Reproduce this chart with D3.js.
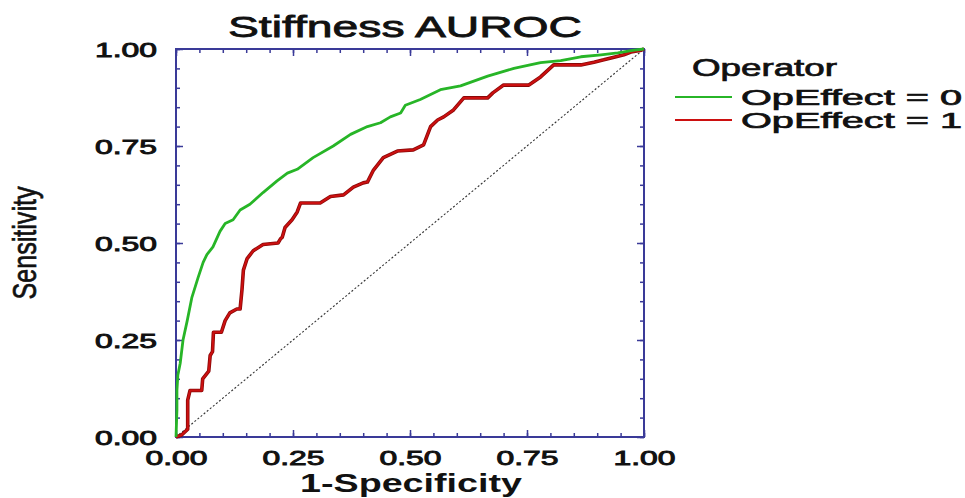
<!DOCTYPE html>
<html><head><meta charset="utf-8">
<script src="https://cdn.jsdelivr.net/npm/d3@7"></script>
<style>body{margin:0;background:#fff}svg{display:block}text{font-family:"Liberation Sans",Arial,sans-serif;fill:#111}</style>
</head><body><svg id="c" width="965" height="498"></svg>
<script>
const title = "Stiffness  AUROC";
const xTitle = "1-Specificity";
const yTitle = "Sensitivity";
const legendTitle = "Operator";
const seriesNames = ["OpEffect = 0", "OpEffect = 1"];
const seriesColors = ["#27b527", "#cc1010"];
const majorTicks = [0, 0.25, 0.5, 0.75, 1];
const tickLabels = ["0.00", "0.25", "0.50", "0.75", "1.00"];

const fprOp0 = [0,0.002,0.002,0.004,0.009,0.015,0.024,0.034,0.047,0.058,0.066,0.079,0.094,0.105,0.122,0.137,0.158,0.186,0.216,0.238,0.259,0.293,0.336,0.373,0.409,0.437,0.458,0.480,0.490,0.522,0.565,0.608,0.666,0.722,0.779,0.822,0.865,0.908,0.944,0.979,1];
const tprOp0 = [0,0.07,0.12,0.16,0.19,0.25,0.30,0.36,0.41,0.45,0.47,0.49,0.53,0.55,0.56,0.585,0.60,0.63,0.66,0.68,0.69,0.72,0.75,0.78,0.80,0.81,0.825,0.835,0.855,0.87,0.895,0.905,0.93,0.95,0.965,0.97,0.98,0.985,0.99,0.997,1];

const fprOp1 = [0,0.012,0.025,0.025,0.03,0.055,0.057,0.07,0.073,0.078,0.08,0.097,0.105,0.115,0.13,0.137,0.141,0.144,0.152,0.165,0.186,0.218,0.223,0.227,0.233,0.248,0.259,0.266,0.308,0.33,0.358,0.379,0.40,0.409,0.422,0.443,0.473,0.507,0.529,0.544,0.559,0.572,0.593,0.615,0.666,0.677,0.70,0.754,0.779,0.807,0.865,0.893,0.914,0.936,0.957,0.972,0.994,1];
const tprOp1 = [0,0.005,0.02,0.095,0.12,0.12,0.15,0.17,0.21,0.22,0.27,0.27,0.30,0.32,0.33,0.33,0.38,0.43,0.46,0.48,0.496,0.50,0.51,0.515,0.54,0.56,0.58,0.603,0.603,0.62,0.624,0.644,0.655,0.657,0.688,0.72,0.737,0.74,0.753,0.80,0.817,0.825,0.843,0.874,0.874,0.887,0.907,0.907,0.928,0.959,0.959,0.966,0.972,0.979,0.985,0.992,0.997,1];

const diagonal = [0, 1];

const svg = d3.select("#c");
const L = 176, R = 644, T = 49, B = 437;
const x = d3.scaleLinear().domain([0, 1]).range([L, R]);
const y = d3.scaleLinear().domain([0, 1]).range([B, T]);
const axisColor = "#3a3a98";
const minorTicks = d3.range(0, 1.0001, 0.05).map(v => +v.toFixed(2));

function styleAxis(g) {
  g.select(".domain").remove();
  g.selectAll(".tick line").attr("stroke", axisColor).attr("stroke-width", 1.5);
}
// minor ticks
svg.append("g").attr("transform", `translate(0,${B})`).call(d3.axisBottom(x).tickValues(minorTicks).tickSize(-4).tickFormat("")).call(styleAxis);
svg.append("g").attr("transform", `translate(0,${T})`).call(d3.axisTop(x).tickValues(minorTicks).tickSize(-4).tickFormat("")).call(styleAxis);
svg.append("g").attr("transform", `translate(${L},0)`).call(d3.axisLeft(y).tickValues(minorTicks).tickSize(-4).tickFormat("")).call(styleAxis);
svg.append("g").attr("transform", `translate(${R},0)`).call(d3.axisRight(y).tickValues(minorTicks).tickSize(-4).tickFormat("")).call(styleAxis);
// major ticks
const fmt = (d) => tickLabels[majorTicks.indexOf(d)];
const gx = svg.append("g").attr("transform", `translate(0,${B})`).call(d3.axisBottom(x).tickValues(majorTicks).tickSize(-7).tickPadding(13).tickFormat(fmt)).call(styleAxis);
const gy = svg.append("g").attr("transform", `translate(${L},0)`).call(d3.axisLeft(y).tickValues(majorTicks).tickSize(-7).tickPadding(19).tickFormat(fmt)).call(styleAxis);
svg.append("g").attr("transform", `translate(0,${T})`).call(d3.axisTop(x).tickValues(majorTicks).tickSize(-7).tickFormat("")).call(styleAxis);
svg.append("g").attr("transform", `translate(${R},0)`).call(d3.axisRight(y).tickValues(majorTicks).tickSize(-7).tickFormat("")).call(styleAxis);

[gx, gy].forEach(g => g.selectAll(".tick text")
  .attr("font-size", 20.5).attr("fill", "#111").attr("stroke", "#111").attr("stroke-width", 0.9)
  .attr("font-family", '"Liberation Sans", Arial, sans-serif')
  .attr("textLength", 62).attr("lengthAdjust", "spacingAndGlyphs"));
gy.selectAll(".tick text").attr("dy", "0.36em");
gx.selectAll(".tick text").attr("dy", "0.71em");

// frame
svg.append("rect").attr("x", L).attr("y", T).attr("width", R - L).attr("height", B - T)
  .attr("fill", "none").attr("stroke", axisColor).attr("stroke-width", 2);

// diagonal
svg.append("line").attr("x1", x(diagonal[0])).attr("y1", y(diagonal[0])).attr("x2", x(diagonal[1])).attr("y2", y(diagonal[1]))
  .attr("stroke", "#333").attr("stroke-width", 1.1).attr("stroke-dasharray", "2,2");

const line = d3.line().x(d => x(d[0])).y(d => y(d[1]));
const s0 = fprOp0.map((v, i) => [v, tprOp0[i]]);
const s1 = fprOp1.map((v, i) => [v, tprOp1[i]]);
svg.append("path").datum(s1).attr("d", line).attr("fill", "none").attr("stroke", "#8a0808").attr("stroke-width", 3.6).attr("stroke-linejoin", "round");
svg.append("path").datum(s1).attr("d", line).attr("fill", "none").attr("stroke", seriesColors[1]).attr("stroke-width", 2).attr("stroke-linejoin", "round");
svg.append("path").datum(s0).attr("d", line).attr("fill", "none").attr("stroke", seriesColors[0]).attr("stroke-width", 2.8).attr("stroke-linejoin", "round");

// titles
svg.append("text").attr("x", 405).attr("y", 37).attr("text-anchor", "middle").attr("font-size", 30)
  .attr("stroke", "#111").attr("stroke-width", 0.8)
  .attr("textLength", 354).attr("lengthAdjust", "spacingAndGlyphs").text(title);
svg.append("text").attr("x", 411).attr("y", 492).attr("text-anchor", "middle").attr("font-size", 25).attr("font-weight", "bold")
  .attr("textLength", 222).attr("lengthAdjust", "spacingAndGlyphs").text(xTitle);
svg.append("text").attr("transform", "translate(36,243) rotate(-90)").attr("text-anchor", "middle").attr("font-size", 33)
  .attr("stroke", "#111").attr("stroke-width", 0.7)
  .attr("textLength", 113).attr("lengthAdjust", "spacingAndGlyphs").text(yTitle);

// legend
svg.append("text").attr("x", 692).attr("y", 76).attr("font-size", 23)
  .attr("stroke", "#111").attr("stroke-width", 0.7)
  .attr("textLength", 145).attr("lengthAdjust", "spacingAndGlyphs").text(legendTitle);
const legY = [97, 120];
seriesNames.forEach((n, i) => {
  svg.append("line").attr("x1", 675).attr("x2", 732).attr("y1", legY[i]).attr("y2", legY[i])
    .attr("stroke", seriesColors[i]).attr("stroke-width", 2);
  svg.append("text").attr("x", 741).attr("y", legY[i] + 8).attr("font-size", 22)
    .attr("stroke", "#111").attr("stroke-width", 0.7)
    .attr("textLength", 221).attr("lengthAdjust", "spacingAndGlyphs").text(n);
});
</script></body></html>
